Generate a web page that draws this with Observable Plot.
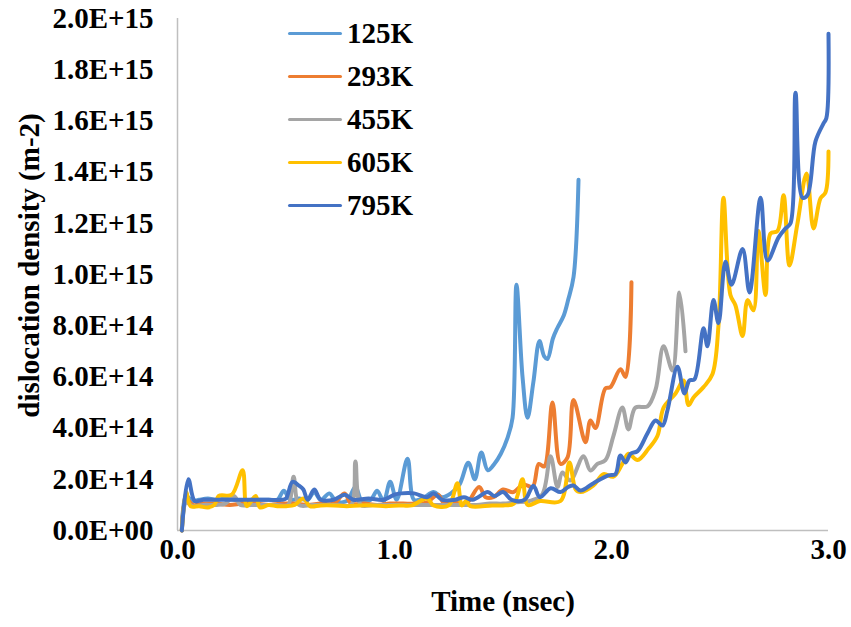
<!DOCTYPE html>
<html><head><meta charset="utf-8">
<script src="https://cdn.jsdelivr.net/npm/d3@7"></script>
<script src="https://cdn.jsdelivr.net/npm/@observablehq/plot@0.6"></script>
<style>
body{margin:0;background:#fff;}
#wrap{position:relative;width:851px;height:627px;}
#legend{position:absolute;left:288px;top:12px;font-family:"Liberation Serif",serif;font-weight:bold;font-size:29px;color:#000;}
.row{display:flex;align-items:center;height:43px;}
.sw{width:54px;height:3px;margin-right:5px;border-radius:2px;}
</style></head><body><div id="wrap"><div id="legend"></div></div>
<script>
// Series names and colours
const seriesNames = ["125K", "293K", "455K", "605K", "795K"];
const seriesColors = ["#5B9BD5", "#ED7D31", "#A5A5A5", "#FFC000", "#4472C4"];

// Time (nsec) and dislocation density (units of 1E+14 m-2)
const time125 = [0.02,0.04,0.07,0.10,0.14,0.18,0.22,0.26,0.30,0.34,0.38,0.42,0.46,0.49,0.52,0.56,0.60,0.63,0.66,0.70,0.73,0.78,0.82,0.85,0.89,0.92,0.95,0.98,1.01,1.06,1.09,1.13,1.18,1.22,1.26,1.30,1.34,1.37,1.40,1.43,1.46,1.49,1.52,1.544,1.562,1.59,1.613,1.64,1.668,1.69,1.705,1.73,1.75,1.78,1.80,1.825,1.848];
const dens125 = [0,1.35,1.15,1.2,1.25,1.2,1.25,1.2,1.15,1.2,1.2,1.2,1.2,1.55,1.2,1.25,1.2,1.5,1.2,1.45,1.15,1.15,1.7,1.15,1.2,1.55,1.15,1.9,1.2,2.8,1.2,1.25,1.5,1.3,1.45,1.8,2.65,2.0,3.05,2.35,2.6,3.0,3.6,4.4,9.6,6.0,4.4,5.8,7.4,6.8,6.7,7.5,7.9,8.4,9.0,9.9,13.7];

const time293 = [0.02,0.04,0.07,0.12,0.18,0.24,0.30,0.36,0.42,0.48,0.54,0.60,0.66,0.72,0.77,0.80,0.86,0.92,0.98,1.04,1.10,1.15,1.20,1.23,1.28,1.33,1.39,1.42,1.456,1.50,1.548,1.594,1.636,1.665,1.69,1.728,1.765,1.797,1.825,1.88,1.903,1.926,1.972,1.995,2.041,2.065,2.092];
const dens293 = [0,1.25,1.0,1.05,1.05,1.0,1.05,1.05,1.0,1.05,1.05,1.0,1.05,1.05,1.45,1.05,1.05,1.0,1.05,1.05,1.05,1.1,1.4,1.05,1.1,1.05,1.7,1.3,1.3,1.6,1.5,1.8,1.7,2.6,2.5,5.0,2.6,2.85,5.1,3.45,4.3,4.0,5.55,5.6,6.3,6.0,9.7];

const time455 = [0.02,0.04,0.07,0.12,0.18,0.22,0.26,0.29,0.34,0.40,0.46,0.51,0.535,0.56,0.62,0.68,0.74,0.80,0.82,0.845,0.90,0.96,1.02,1.08,1.14,1.20,1.26,1.32,1.38,1.44,1.50,1.56,1.62,1.68,1.719,1.751,1.774,1.81,1.871,1.903,1.935,1.972,2.009,2.05,2.078,2.11,2.166,2.203,2.24,2.281,2.313,2.341];
const dens455 = [0,1.1,0.95,1.0,1.0,1.05,1.35,1.0,1.0,1.0,1.0,1.0,2.1,1.0,1.0,1.0,1.0,1.0,2.7,1.0,1.0,1.0,1.0,1.0,1.0,1.0,1.0,1.0,1.0,1.05,1.05,1.1,1.15,1.4,2.9,1.7,2.27,1.95,2.9,2.34,2.6,2.75,3.7,4.8,3.95,4.8,4.85,5.5,7.2,6.25,9.3,7.0];

const time605 = [0.02,0.04,0.06,0.10,0.14,0.17,0.19,0.25,0.30,0.32,0.36,0.38,0.42,0.46,0.50,0.54,0.58,0.61,0.66,0.72,0.78,0.84,0.90,0.96,1.02,1.08,1.15,1.18,1.25,1.29,1.31,1.33,1.35,1.45,1.50,1.55,1.59,1.613,1.67,1.765,1.806,1.835,1.857,1.917,1.963,2.009,2.05,2.078,2.12,2.171,2.212,2.24,2.295,2.332,2.355,2.378,2.424,2.465,2.493,2.516,2.548,2.571,2.604,2.627,2.654,2.677,2.71,2.733,2.765,2.793,2.82,2.857,2.899,2.931,2.963,2.986,3.0];
const dens605 = [0,1.5,0.95,0.95,0.9,1.0,1.35,1.4,2.35,0.95,1.35,0.9,1.0,0.95,0.95,1.0,1.25,0.95,0.98,0.98,0.95,0.98,0.98,0.95,0.98,0.98,1.25,0.98,0.98,1.85,0.98,1.15,0.95,0.98,0.98,1.05,2.0,1.0,1.15,1.15,2.66,1.6,1.5,1.76,2.2,2.1,2.6,3.0,2.75,3.2,3.7,4.8,5.35,5.86,4.9,5.2,5.6,6.1,8.0,13.0,9.2,8.8,7.6,9.0,8.6,11.7,9.2,11.6,11.7,13.1,10.35,12.0,13.95,11.8,12.97,13.2,14.8];

const time795 = [0.02,0.05,0.08,0.12,0.18,0.24,0.30,0.36,0.42,0.48,0.50,0.53,0.56,0.58,0.60,0.63,0.66,0.72,0.77,0.81,0.88,0.95,1.00,1.03,1.09,1.15,1.18,1.22,1.28,1.32,1.36,1.43,1.46,1.50,1.54,1.60,1.64,1.67,1.72,1.765,1.80,1.825,1.857,1.917,1.986,2.018,2.041,2.065,2.088,2.12,2.166,2.203,2.235,2.258,2.304,2.336,2.359,2.382,2.424,2.442,2.47,2.493,2.525,2.553,2.604,2.636,2.687,2.719,2.77,2.802,2.825,2.848,2.88,2.903,2.94,2.977,2.99,3.0];
const dens795 = [0,2.0,1.15,1.2,1.2,1.2,1.2,1.2,1.2,1.2,1.25,1.9,1.75,1.6,1.2,1.6,1.2,1.2,1.4,1.2,1.25,1.2,1.4,1.45,1.45,1.3,1.45,1.2,1.2,1.3,1.2,1.5,1.35,1.5,1.2,1.2,1.75,1.3,1.65,1.5,1.7,1.76,1.56,1.85,2.15,2.2,2.93,2.66,3.0,3.1,3.8,4.3,4.1,4.7,6.4,5.35,5.86,5.9,7.9,7.2,9.0,8.1,10.5,9.6,11.0,9.3,13.0,10.55,11.45,11.8,12.0,17.1,13.0,13.1,15.2,15.9,16.1,19.4];

// Axis ticks
const xTicks = [0, 1, 2, 3];
const xTickLabels = ["0.0", "1.0", "2.0", "3.0"];
const yTicks = [0, 2, 4, 6, 8, 10, 12, 14, 16, 18, 20];
const yTickLabels = ["0.0E+00","2.0E+14","4.0E+14","6.0E+14","8.0E+14","1.0E+15","1.2E+15","1.4E+15","1.6E+15","1.8E+15","2.0E+15"];
const xTitle = "Time (nsec)";
const yTitle = "dislocation density (m-2)";

const times = [time125, time293, time455, time605, time795];
const dens = [dens125, dens293, dens455, dens605, dens795];
const rows = [];
seriesNames.forEach((s, k) => times[k].forEach((t, i) => rows.push({series: s, t, v: dens[k][i]})));

const font = "Liberation Serif, Times New Roman, serif";
const chart = Plot.plot({
  width: 851, height: 627,
  marginLeft: 177, marginRight: 23, marginTop: 18, marginBottom: 97,
  style: {fontFamily: font, fontWeight: "bold", fontSize: "29px", color: "#000", background: "#fff"},
  x: {domain: [0, 3]},
  y: {domain: [0, 20]},
  color: {domain: seriesNames, range: seriesColors},
  marks: [
    Plot.axisY({ticks: yTicks, tickFormat: d => yTickLabels[yTicks.indexOf(d)], tickSize: 0, tickPadding: 24, fontSize: 29, label: null}),
    Plot.axisX({ticks: xTicks, tickFormat: d => xTickLabels[xTicks.indexOf(d)], tickSize: 0, tickPadding: 8, fontSize: 29, label: null}),
    Plot.ruleX([0], {stroke: "#BFBFBF", strokeWidth: 1.5}),
    Plot.ruleY([0], {stroke: "#BFBFBF", strokeWidth: 1.5}),
    Plot.line(rows, {x: "t", y: "v", z: "series", stroke: "series", strokeWidth: 4, curve: "catmull-rom", strokeLinejoin: "round", strokeLinecap: "round"}),
    Plot.text([xTitle], {frameAnchor: "bottom", dy: 80, fontSize: 29, fontWeight: "bold", fill: "#000"}),
    Plot.text([yTitle], {frameAnchor: "left", textAnchor: "middle", dx: -148, dy: -9, rotate: -90, fontSize: 29, fontWeight: "bold", fill: "#000"})
  ]
});
document.getElementById("wrap").prepend(chart);

const legend = document.getElementById("legend");
seriesNames.forEach((s, k) => {
  const r = document.createElement("div"); r.className = "row";
  const sw = document.createElement("span"); sw.className = "sw"; sw.style.background = seriesColors[k];
  const lab = document.createElement("span"); lab.textContent = s;
  r.append(sw, lab); legend.append(r);
});
</script></body></html>
